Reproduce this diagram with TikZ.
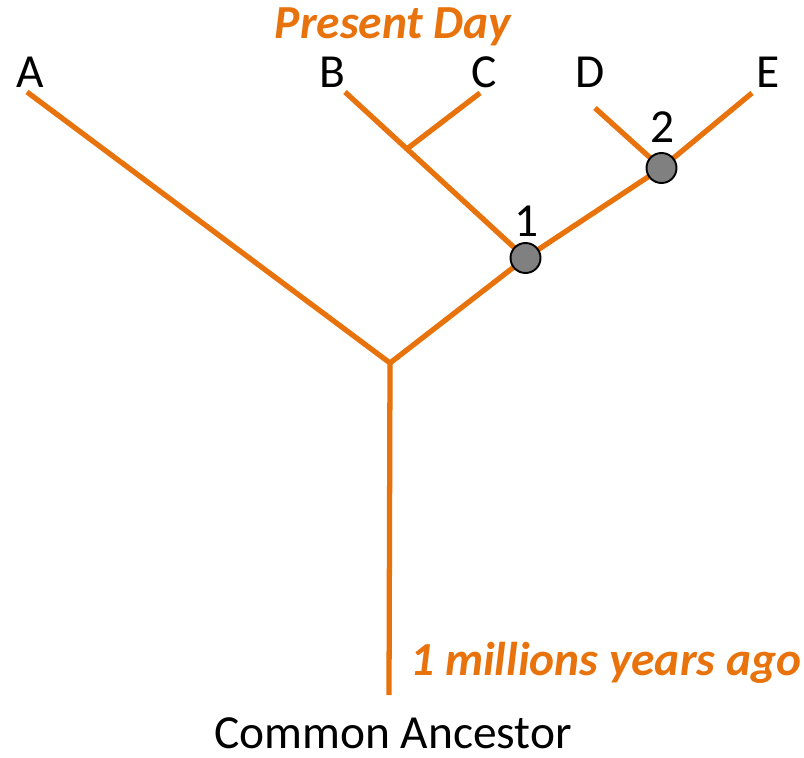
\documentclass[tikz,border=0pt]{standalone}
\usepackage{fontspec}
\setmainfont{Carlito}
\usepackage{tikz}
\usetikzlibrary{calc}

\definecolor{branch}{RGB}{232,114,12}
\definecolor{dotgray}{RGB}{128,128,128}

\tikzset{
  tree/.style={branch, line width=3pt},
  dot/.style={circle, draw=black, line width=1.1pt, fill=dotgray, inner sep=0pt, minimum size=0.6cm},
  lbl/.style={font=\fontsize{27}{32}\selectfont},
  olbl/.style={font=\fontsize{27}{32}\selectfont\bfseries\itshape, text=branch}
}

\begin{document}
\begin{tikzpicture}
\useasboundingbox (0,0) rectangle (16.08,-15.16);

\coordinate (root) at (7.78,-13.9);
\coordinate (junc) at (7.8,-7.26);
\coordinate (n1) at (10.51,-5.16);
\coordinate (n2) at (13.23,-3.36);
\coordinate (A) at (0.54,-1.84);
\coordinate (B) at (6.9,-1.84);
\coordinate (C) at (9.6,-1.86);
\coordinate (D) at (11.9,-2.16);
\coordinate (E) at (15.04,-1.86);
\coordinate (bc) at ($(B)!0.343!(n1)$);

% branches
\draw[tree] (root) -- (junc) -- (A);
\draw[tree] (junc) -- (n1) -- (n2) -- (E);
\draw[tree] (B) -- (n1);
\draw[tree] (C) -- (bc);
\draw[tree] (D) -- (n2);

\node[dot] (dot1) at (n1) {};
\node[dot] (dot2) at (n2) {};

\node[lbl] (num1) at (10.54,-4.42) {1};
\node[lbl] (num2) at (13.26,-2.54) {2};

\node[lbl] (labA) at (0.6,-1.44) {A};
\node[lbl] (labB) at (6.64,-1.44) {B};
\node[lbl] (labC) at (9.68,-1.44) {C};
\node[lbl] (labD) at (11.8,-1.44) {D};
\node[lbl] (labE) at (15.36,-1.44) {E};

\node[olbl] (today) at (7.86,-0.54) {Present Day};
\node[olbl, anchor=west, inner sep=0pt] (ago) at (8.2,-13.26) {1 millions years ago};
\node[lbl] (anc) at (7.86,-14.66) {Common Ancestor};
\end{tikzpicture}
\end{document}
